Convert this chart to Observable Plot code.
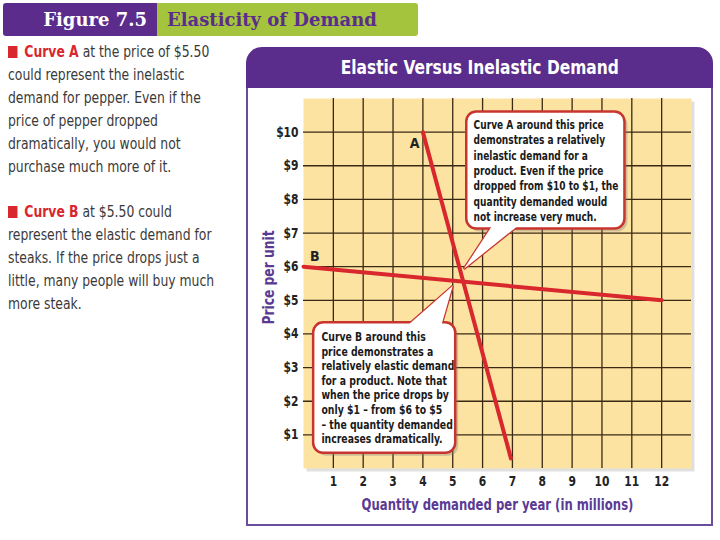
<!DOCTYPE html>
<html><head><meta charset="utf-8">
<script src="https://cdn.jsdelivr.net/npm/d3@7"></script>
<script src="https://cdn.jsdelivr.net/npm/@observablehq/plot@0.6"></script>
<style>
body{margin:0;background:#fff;width:720px;height:540px;position:relative;overflow:hidden;}
.banner{position:absolute;top:3px;height:33px;line-height:33px;font-family:"DejaVu Serif",serif;font-weight:bold;font-size:18px;}
#b1{left:3px;width:154px;background:#5b2c8c;color:#fff;text-align:right;box-sizing:border-box;padding-right:10px;border-radius:3px 0 0 3px;}
#b2{left:157px;width:261px;background:#a3c43c;color:#5b2c8c;box-sizing:border-box;padding-left:10px;border-radius:0 3px 3px 0;}
#side{position:absolute;left:8px;top:40px;font-family:"DejaVu Sans Condensed",sans-serif;font-size:16px;line-height:23px;color:#3a3a3a;transform:scaleX(0.86);transform-origin:0 0;white-space:nowrap;}
#side p{margin:0 0 22px 0;}
.sq{display:inline-block;width:11px;height:12px;background:#d8282e;margin-right:8px;vertical-align:-1px;}
.cv{color:#d8282e;font-weight:bold;}
#ptitle{position:absolute;left:246px;top:47px;width:467px;height:41px;background:#5a2d8c;border-radius:16px 16px 0 0;color:#fff;text-align:center;line-height:41px;font-family:"DejaVu Sans Condensed",sans-serif;font-weight:bold;font-size:20px;}
#ptitle span{display:inline-block;transform:scaleX(0.86);}
#pbody{position:absolute;left:246px;top:88px;width:463px;height:436px;border:2px solid #6b4d9e;border-top:none;}
#chart{position:absolute;left:247px;top:88px;}
</style></head>
<body>
<div class="banner" id="b1">Figure 7.5</div>
<div class="banner" id="b2">Elasticity of Demand</div>
<div id="side">
<p><span class="sq"></span><span class="cv">Curve A</span> at the price of $5.50<br>could represent the inelastic<br>demand for pepper. Even if the<br>price of pepper dropped<br>dramatically, you would not<br>purchase much more of it.</p>
<p><span class="sq"></span><span class="cv">Curve B</span> at $5.50 could<br>represent the elastic demand for<br>steaks. If the price drops just a<br>little, many people will buy much<br>more steak.</p>
</div>
<div id="ptitle"><span>Elastic Versus Inelastic Demand</span></div>
<div id="pbody"></div>
<div id="chart"></div>
<script>
const xTicks = [1,2,3,4,5,6,7,8,9,10,11,12];
const yTicks = [1,2,3,4,5,6,7,8,9,10];
const curveA = [{q:4, p:10}, {q:6.95, p:0.3}];
const curveB = [{q:0, p:6}, {q:12, p:5}];
const curveLabels = [{q:3.72, p:9.67, t:"A"}, {q:0.38, p:6.3, t:"B"}];
const noteA = "Curve A around this price\ndemonstrates a relatively\ninelastic demand for a\nproduct. Even if the price\ndropped from $10 to $1, the\nquantity demanded would\nnot increase very much.";
const noteB = "Curve B around this\nprice demonstrates a\nrelatively elastic demand\nfor a product. Note that\nwhen the price drops by\nonly $1 – from $6 to $5\n– the quantity demanded\nincreases dramatically.";
const xTitle = "Quantity demanded per year (in millions)";
const yTitle = "Price per unit";

// callout geometry (annotation layout)
const boxA = {x1:5.47, x2:10.77, y1:7.12, y2:10.6};
const boxB = {x1:0.34, x2:5.1, y1:0.45, y2:4.33};
const tailA = [{q:6.38,p:7.3},{q:5.37,p:5.93},{q:7.3,p:7.3}];
const tailB = [{q:3.42,p:4.2},{q:5.0,p:5.43},{q:4.6,p:4.2}];

const red = "#d8282e", cred = "#c8352e";
const grid = "#3a2a14";
const fontC = "DejaVu Sans Condensed, sans-serif";

function callout(box, tail) {
  return [
    Plot.rect([box], {x1:"x1", x2:"x2", y1:"y1", y2:"y2", fill:"#777", fillOpacity:0.35, rx:10, dx:3, dy:3}),
    Plot.line(tail, {x:"q", y:"p", stroke:cred, strokeWidth:2.5, fill:"#fff", strokeLinejoin:"miter"}),
    Plot.rect([box], {x1:"x1", x2:"x2", y1:"y1", y2:"y2", fill:"#fff", stroke:cred, strokeWidth:2.5, rx:10}),
    Plot.line(tail, {x:"q", y:"p", fill:"#fff", stroke:null})
  ];
}

const chart = Plot.plot({
  width: 464, height: 436,
  marginLeft: 56, marginRight: 20, marginTop: 10, marginBottom: 56,
  x: {domain:[0,13]},
  y: {domain:[0,11]},
  style: {background:"transparent", fontFamily: fontC},
  marks: [
    Plot.frame({fill:"#999", fillOpacity:0.3, stroke:null, dx:3, dy:3}),
    Plot.frame({fill:"#fde3a2", stroke:null}),
    Plot.ruleX(xTicks, {stroke:grid, strokeWidth:1.3}),
    Plot.ruleY(yTicks, {stroke:grid, strokeWidth:1.3}),
    Plot.axisY({ticks:yTicks, tickFormat:d => "$" + d, tickSize:0, tickPadding:5, fontSize:14, fontWeight:"bold", fill:"#222", label:null}),
    Plot.axisX({ticks:xTicks, tickSize:0, tickPadding:8, fontSize:14, fontWeight:"bold", fill:"#222", label:null}),
    Plot.text([yTitle], {frameAnchor:"left", textAnchor:"middle", lineAnchor:"middle", dx:-35, dy:-6, rotate:-90, fontSize:16, fill:"#5b3a93", fontWeight:"bold"}),
    Plot.text([xTitle], {frameAnchor:"bottom", textAnchor:"middle", lineAnchor:"middle", dy:36, fontSize:16, fill:"#5b3a93", fontWeight:"bold"}),
    Plot.line(curveA, {x:"q", y:"p", stroke:red, strokeWidth:4}),
    Plot.line(curveB, {x:"q", y:"p", stroke:red, strokeWidth:4}),
    Plot.text(curveLabels, {x:"q", y:"p", text:"t", fontSize:14, fontWeight:"bold", fill:"#222"}),
    ...callout(boxB, tailB),
    ...callout(boxA, tailA),
    Plot.text([noteA], {x:() => 5.7, y:() => 10.42, textAnchor:"start", lineAnchor:"top", lineHeight:1.18, fontSize:13, fontWeight:"bold", fill:"#1a1a1a"}),
    Plot.text([noteB], {x:() => 0.6, y:() => 4.09, textAnchor:"start", lineAnchor:"top", lineHeight:1.12, fontSize:13, fontWeight:"bold", fill:"#1a1a1a"})
  ]
});
document.getElementById("chart").appendChild(chart);

// horizontally condense text to match the reference's narrow typeface
function squeezeEl(t, k) {
  t.setAttribute("transform", (t.getAttribute("transform") || "") + ` scale(${k},1)`);
}
function textLen(t) {
  const spans = t.querySelectorAll("tspan");
  const lens = spans.length ? Array.from(spans, s => s.getComputedTextLength()) : [t.getComputedTextLength()];
  return Math.max(...lens);
}
Array.from(chart.querySelectorAll("text")).forEach(t => {
  const s = t.textContent;
  if (s.startsWith("Curve A")) squeezeEl(t, 145 / textLen(t));
  else if (s.startsWith("Curve B")) squeezeEl(t, 133 / textLen(t));
  else if (s === xTitle) squeezeEl(t, 272 / textLen(t));
  else if (s === yTitle) squeezeEl(t, 94 / textLen(t));
  else if (/^\$?\d+$/.test(s)) squeezeEl(t, 0.85);
});
</script>
</body></html>
